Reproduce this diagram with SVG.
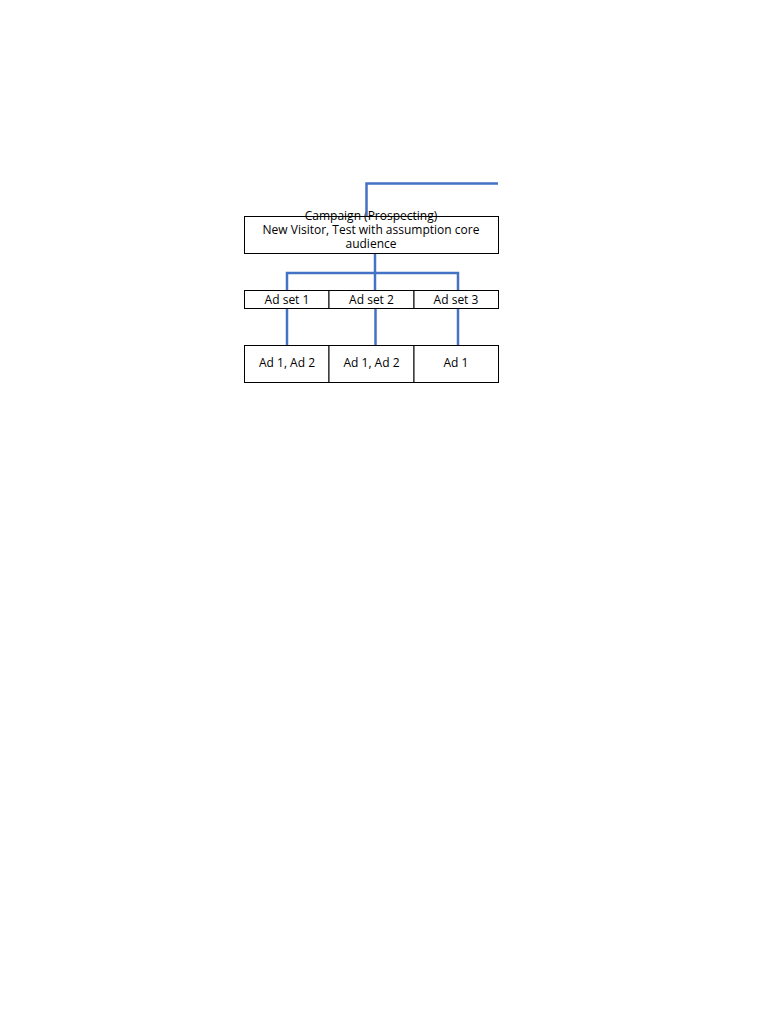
<svg xmlns="http://www.w3.org/2000/svg" width="768" height="1024" viewBox="0 0 768 1024">
<style>
.box{fill:#fff;stroke:#000;stroke-width:1}
.t{font-family:"Open Sans","Liberation Sans",Arial,sans-serif;font-size:12px;fill:#000;text-anchor:middle}
.c{fill:none;stroke:#4472C4;stroke-width:2.5}
</style>
<rect width="768" height="1024" fill="#fff"/>
<g id="campaign">
<rect class="box" x="244.5" y="216.5" width="254" height="37"/>
<text class="t" x="371" y="220">Campaign (Prospecting)</text>
<text class="t" x="371" y="234">New Visitor, Test with assumption core</text>
<text class="t" x="371" y="248">audience</text>
</g>
<g id="adset1"><rect class="box" x="244.5" y="290.5" width="84.5" height="18"/><text class="t" x="287" y="304">Ad set 1</text></g>
<g id="adset2"><rect class="box" x="329" y="290.5" width="85" height="18"/><text class="t" x="371.5" y="304">Ad set 2</text></g>
<g id="adset3"><rect class="box" x="414" y="290.5" width="84.5" height="18"/><text class="t" x="456" y="304">Ad set 3</text></g>
<g id="ads1"><rect class="box" x="244.5" y="345.5" width="84.5" height="37"/><text class="t" x="287" y="367">Ad 1, Ad 2</text></g>
<g id="ads2"><rect class="box" x="329" y="345.5" width="85" height="37"/><text class="t" x="371.5" y="367">Ad 1, Ad 2</text></g>
<g id="ads3"><rect class="box" x="414" y="345.5" width="84.5" height="37"/><text class="t" x="456" y="367">Ad 1</text></g>
<g id="connectors">
<path class="c" d="M498 183.5 H366.5 V216"/>
<path class="c" d="M375 254 V273"/>
<path class="c" d="M287 290 V273 H458 V290"/>
<path class="c" d="M375 273 V290"/>
<path class="c" d="M287 309 V345"/>
<path class="c" d="M375.5 309 V345"/>
<path class="c" d="M458 309 V345"/>
</g>
</svg>
